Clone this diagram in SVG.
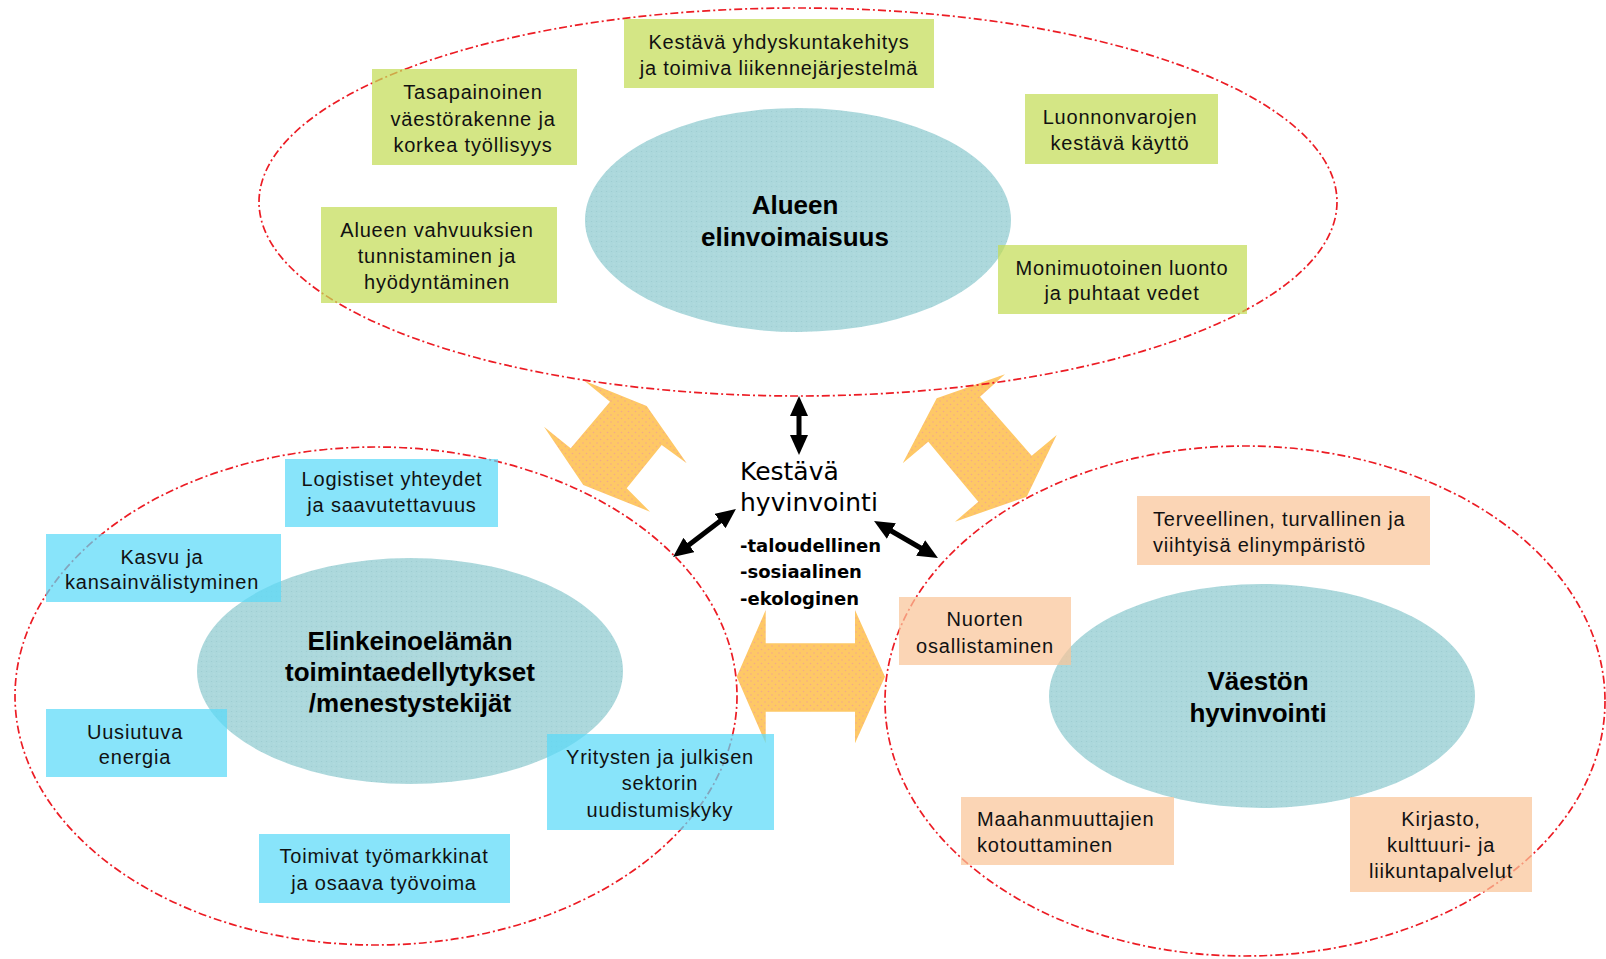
<svg xmlns="http://www.w3.org/2000/svg" width="1606" height="959" viewBox="0 0 1606 959">
<style>
.region{fill:none;stroke:#ec1c24;stroke-width:1.7;stroke-dasharray:8 3 2 3}
.core{fill:url(#tealDots)}
.green{fill:#c4dc56;fill-opacity:0.72}
.blue{fill:#5ad9f8;fill-opacity:0.72}
.peach{fill:#f9c598;fill-opacity:0.72}
.lbl{font-family:"Liberation Sans",Arial,sans-serif;font-size:20px;letter-spacing:0.8px;fill:#111}
.mid{text-anchor:middle}
.big{font-family:"Liberation Sans",Arial,sans-serif;font-size:26px;font-weight:bold;fill:#000;text-anchor:middle}
.ctr{font-family:"DejaVu Sans",Verdana,sans-serif;font-size:25px;fill:#000}
.dim{font-family:"DejaVu Sans",Verdana,sans-serif;font-size:18px;font-weight:bold;fill:#000}
.blk{stroke:#000;stroke-width:5;fill:none;marker-start:url(#ah);marker-end:url(#ah)}
.orange{fill:url(#orangeDots)}
</style>
<defs>
<pattern id="tealDots" width="5" height="5" patternUnits="userSpaceOnUse">
<rect width="5" height="5" fill="#acd8dc"/>
<circle cx="1.5" cy="1.5" r="0.6" fill="#9ccbd0"/>
<circle cx="4" cy="3.8" r="0.5" fill="#bfe3e6"/>
</pattern>
<pattern id="orangeDots" width="7" height="7" patternUnits="userSpaceOnUse">
<rect width="7" height="7" fill="#fec866"/>
<circle cx="2" cy="2" r="0.8" fill="#f3a98a"/>
<circle cx="5.5" cy="5.5" r="0.8" fill="#f3a98a"/>
</pattern>
<marker id="ah" viewBox="0 0 20 18" refX="10" refY="9" markerWidth="20" markerHeight="18" markerUnits="userSpaceOnUse" orient="auto-start-reverse">
<path d="M0,0 L20,9 L0,18 z" fill="#000"/>
</marker>
</defs>
<rect width="1606" height="959" fill="#fff"/>

<g id="connectors">
<polygon class="orange" points="646.7,406 686.7,463.3 661.7,445 626.7,488.3 650,511.7 583.3,485 544,426.7 570.7,448.3 610,401.7 584.3,380.7"/>
<polygon class="orange" points="936.7,398.3 1005,374.3 980,396.7 1031.7,455.7 1056.7,435 1026.7,496.7 955,521.7 978.3,501.7 928.3,441.7 902.7,463.3"/>
<polygon class="orange" points="736.7,676.7 765.7,610 765.7,643.3 855,643.3 855,610 885,676.7 855,743.3 855,711.7 765.7,711.7 765.7,743.3"/>
<line class="blk" x1="799" y1="406" x2="799" y2="445"/>
<line class="blk" x1="681" y1="551" x2="728" y2="515"/>
<line class="blk" x1="882.7" y1="526" x2="929.3" y2="553"/>
</g>

<g id="region-alue">
<ellipse class="region" cx="798" cy="202" rx="539" ry="194"/>
</g>
<g id="region-elinkeino">
<ellipse class="region" cx="376" cy="696" rx="361" ry="249"/>
</g>
<g id="region-vaesto">
<ellipse class="region" cx="1245" cy="701" rx="360" ry="255"/>
</g>

<g id="core-alue">
<ellipse class="core" cx="798" cy="220" rx="213" ry="112"/>
<text class="big" x="795" y="214">Alueen</text>
<text class="big" x="795" y="246">elinvoimaisuus</text>
</g>
<g id="core-elinkeino">
<ellipse class="core" cx="410" cy="671" rx="213" ry="113"/>
<text class="big" x="410" y="650">Elinkeinoelämän</text>
<text class="big" x="410" y="681">toimintaedellytykset</text>
<text class="big" x="410" y="712">/menestystekijät</text>
</g>
<g id="core-vaesto">
<ellipse class="core" cx="1262" cy="696" rx="213" ry="112"/>
<text class="big" x="1258" y="690">Väestön</text>
<text class="big" x="1258" y="722">hyvinvointi</text>
</g>

<g id="g-kestava-yhdyskunta">
<rect class="green" x="624" y="19" width="310" height="69"/>
<text class="lbl mid" x="779" y="49">Kestävä yhdyskuntakehitys</text>
<text class="lbl mid" x="779" y="75">ja toimiva liikennejärjestelmä</text>
</g>
<g id="g-tasapainoinen">
<rect class="green" x="372" y="69" width="205" height="96"/>
<text class="lbl mid" x="473" y="99">Tasapainoinen</text>
<text class="lbl mid" x="473" y="126">väestörakenne ja</text>
<text class="lbl mid" x="473" y="152">korkea työllisyys</text>
</g>
<g id="g-vahvuudet">
<rect class="green" x="321" y="207" width="236" height="96"/>
<text class="lbl mid" x="437" y="237">Alueen vahvuuksien</text>
<text class="lbl mid" x="437" y="263">tunnistaminen ja</text>
<text class="lbl mid" x="437" y="289">hyödyntäminen</text>
</g>
<g id="g-luonnonvarat">
<rect class="green" x="1025" y="94" width="193" height="70"/>
<text class="lbl mid" x="1120" y="124">Luonnonvarojen</text>
<text class="lbl mid" x="1120" y="150">kestävä käyttö</text>
</g>
<g id="g-luonto">
<rect class="green" x="998" y="245" width="249" height="69"/>
<text class="lbl mid" x="1122" y="275">Monimuotoinen luonto</text>
<text class="lbl mid" x="1122" y="300">ja puhtaat vedet</text>
</g>

<g id="b-logistiset">
<rect class="blue" x="285" y="459" width="213" height="68"/>
<text class="lbl mid" x="392" y="486">Logistiset yhteydet</text>
<text class="lbl mid" x="392" y="512">ja saavutettavuus</text>
</g>
<g id="b-kasvu">
<rect class="blue" x="46" y="534" width="235" height="68"/>
<text class="lbl mid" x="162" y="564">Kasvu ja</text>
<text class="lbl mid" x="162" y="589">kansainvälistyminen</text>
</g>
<g id="b-energia">
<rect class="blue" x="46" y="709" width="181" height="68"/>
<text class="lbl mid" x="135" y="739">Uusiutuva</text>
<text class="lbl mid" x="135" y="764">energia</text>
</g>
<g id="b-uudistuminen">
<rect class="blue" x="547" y="734" width="227" height="96"/>
<text class="lbl mid" x="660" y="764">Yritysten ja julkisen</text>
<text class="lbl mid" x="660" y="790">sektorin</text>
<text class="lbl mid" x="660" y="817">uudistumiskyky</text>
</g>
<g id="b-tyomarkkinat">
<rect class="blue" x="259" y="834" width="251" height="69"/>
<text class="lbl mid" x="384" y="863">Toimivat työmarkkinat</text>
<text class="lbl mid" x="384" y="890">ja osaava työvoima</text>
</g>

<g id="p-elinymparisto">
<rect class="peach" x="1137" y="496" width="293" height="69"/>
<text class="lbl" x="1153" y="526">Terveellinen, turvallinen ja</text>
<text class="lbl" x="1153" y="552">viihtyisä elinympäristö</text>
</g>
<g id="p-nuoret">
<rect class="peach" x="899" y="597" width="172" height="68"/>
<text class="lbl mid" x="985" y="626">Nuorten</text>
<text class="lbl mid" x="985" y="653">osallistaminen</text>
</g>
<g id="p-maahanmuuttajat">
<rect class="peach" x="961" y="797" width="213" height="68"/>
<text class="lbl" x="977" y="826">Maahanmuuttajien</text>
<text class="lbl" x="977" y="852">kotouttaminen</text>
</g>
<g id="p-kirjasto">
<rect class="peach" x="1350" y="797" width="182" height="95"/>
<text class="lbl mid" x="1441" y="826">Kirjasto,</text>
<text class="lbl mid" x="1441" y="852">kulttuuri- ja</text>
<text class="lbl mid" x="1441" y="878">liikuntapalvelut</text>
</g>

<g id="center-kestava-hyvinvointi">
<text class="ctr" x="740" y="480">Kestävä</text>
<text class="ctr" x="740" y="511">hyvinvointi</text>
<text class="dim" x="740" y="552">-taloudellinen</text>
<text class="dim" x="740" y="578">-sosiaalinen</text>
<text class="dim" x="740" y="605">-ekologinen</text>
</g>
</svg>
